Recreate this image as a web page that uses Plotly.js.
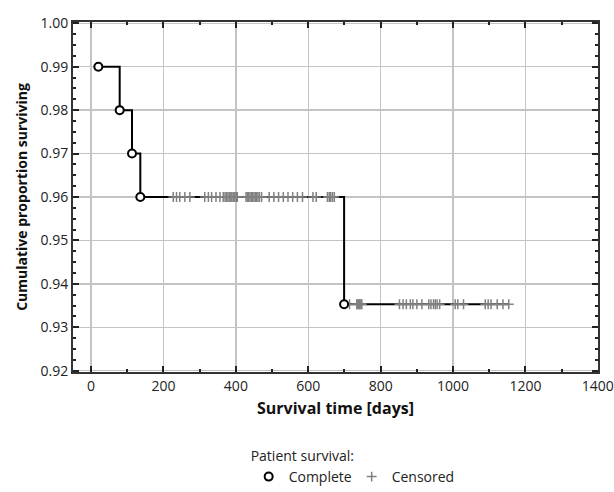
<!DOCTYPE html>
<html>
<head>
<meta charset="utf-8">
<script src="https://cdn.plot.ly/plotly-3.0.1.min.js"></script>
<style>html,body{margin:0;padding:0;background:#fff;}#chart{width:614px;height:492px;}</style>
</head>
<body>
<div id="chart"></div>
<script>
// Kaplan-Meier events (complete observations)
const eventDays = [20, 79, 113, 136, 699];
const eventSurvival = [0.99, 0.98, 0.97, 0.96, 0.9353];
// Censored observation times (days)
const censoredDays = [227, 236, 245, 259, 273, 314, 324, 333, 345, 356, 365, 370, 374, 378, 382, 386, 389, 393, 397, 401, 404,
  428, 432, 435, 439, 443, 446, 450, 454, 457, 461, 465, 471, 492, 505, 518, 531, 544, 557, 570, 584, 613, 622, 653, 658, 662, 667, 672,
  714, 734, 737, 739, 741, 743, 746, 748, 852, 862, 871, 882, 889, 900, 914, 933, 939, 946, 951, 956, 963, 1006, 1013, 1029,
  1089, 1097, 1105, 1122, 1138, 1154];
const lastFollowUp = 1154;
const yTicks = [0.92, 0.93, 0.94, 0.95, 0.96, 0.97, 0.98, 0.99, 1.00];
const xTicks = [0, 200, 400, 600, 800, 1000, 1200, 1400];

function survivalAt(t) {
  let s = 1;
  for (let i = 0; i < eventDays.length; i++) if (eventDays[i] <= t) s = eventSurvival[i];
  return s;
}
const censoredSurv = censoredDays.map(survivalAt);
const stepX = eventDays.concat([lastFollowUp]);
const stepY = eventSurvival.concat([eventSurvival[eventSurvival.length - 1]]);

const font = "'Open Sans', 'Noto Sans', sans-serif";
const traces = [
  {x: stepX, y: stepY, mode: 'lines', line: {shape: 'hv', color: '#000', width: 2}, showlegend: false, hoverinfo: 'skip'},
  {x: censoredDays, y: censoredSurv, mode: 'markers', name: 'Censored',
   marker: {symbol: 'cross-thin-open', size: 7, color: '#808080', line: {color: '#808080', width: 1.5}}},
  {x: eventDays, y: eventSurvival, mode: 'markers', name: 'Complete',
   marker: {symbol: 'circle', size: 8, color: '#fff', line: {color: '#000', width: 2}}}
];

const axisCommon = {
  showgrid: true, gridcolor: '#c4c4c4', gridwidth: 1.5,
  showline: true, linecolor: '#333', linewidth: 2, mirror: 'ticks',
  ticks: 'inside', ticklen: 6, tickwidth: 2, tickcolor: '#222',
  zeroline: false, tickfont: {family: font, size: 14, color: '#222'}, automargin: false
};

const layout = {
  width: 614, height: 492,
  margin: {l: 73, r: 16, t: 22, b: 120},
  paper_bgcolor: '#fff', plot_bgcolor: '#fff',
  font: {family: font, color: '#222'},
  xaxis: Object.assign({}, axisCommon, {
    range: [-50, 1400.5], tickvals: xTicks, ticktext: xTicks.map(String),
    minor: {dtick: 100, tick0: 0, ticks: 'inside', ticklen: 3, tickwidth: 2, tickcolor: '#222', showgrid: false},
    title: {text: '<b>Survival time [days]</b>', font: {family: font, size: 16, color: '#111'}, standoff: 9}
  }),
  yaxis: Object.assign({}, axisCommon, {
    range: [0.9197, 1.0003], tickvals: yTicks, ticktext: yTicks.map(v => v.toFixed(2)),
    minor: {dtick: 0.0025, tick0: 0.92, ticks: 'inside', ticklen: 3, tickwidth: 2, tickcolor: '#222', showgrid: false},
    title: {text: '<b>Cumulative proportion surviving</b>', font: {family: font, size: 14, color: '#111'}, standoff: 10}
  }),
  legend: {
    orientation: 'h', xref: 'container', x: 0.405, xanchor: 'left', yref: 'container', y: 0.10, yanchor: 'top',
    traceorder: 'reversed',
    title: {text: 'Patient survival:', side: 'top', font: {family: font, size: 14, color: '#222'}},
    font: {family: font, size: 14, color: '#222'}, itemwidth: 30,
    entrywidth: 58, entrywidthmode: 'pixels'
  }
};

Plotly.newPlot('chart', traces, layout, {displayModeBar: false, staticPlot: true});
</script>
</body>
</html>
